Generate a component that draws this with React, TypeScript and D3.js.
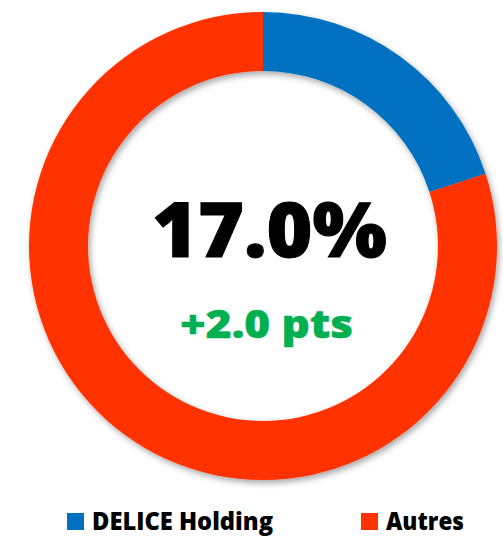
import React from "react";
import * as d3 from "d3";

const categories = ["DELICE Holding", "Autres"];
const values = [20, 80];
const colors = ["#0070C0", "#FF3300"];
const mainLabel = "17.0%";
const subLabel = "+2.0 pts";

export default function App() {
  const W = 503, H = 536;
  const cx = 263, cy = 246;
  const outer = 234, inner = 175;
  const pie = d3.pie<number>().sort(null)(values);
  const arc = d3.arc<d3.PieArcDatum<number>>().innerRadius(inner).outerRadius(outer);
  const font = "'Open Sans', Lato, sans-serif";
  const legendX = [67, 361];
  const legendW = [181, 78];
  return (
    <svg width={W} height={H} style={{ position: "absolute", left: 0, top: 0, background: "#fff" }}>
      <defs>
        <filter id="sh" x="-20%" y="-20%" width="140%" height="140%">
          <feDropShadow dx="2" dy="3" stdDeviation="3" floodColor="#000" floodOpacity="0.35" />
        </filter>
      </defs>
      <g transform={`translate(${cx},${cy})`} filter="url(#sh)">
        {pie.map((p, i) => (
          <path key={i} d={arc(p) || ""} fill={colors[i]} />
        ))}
      </g>
      <text x={152} y={257} textLength={235} lengthAdjust="spacingAndGlyphs" fontFamily={font} fontWeight={800} fontSize={76} fill="#000" stroke="#000" strokeWidth={1}>
        {mainLabel}
      </text>
      <text x={180} y={338} textLength={173} lengthAdjust="spacingAndGlyphs" fontFamily={font} fontWeight={800} fontSize={38} fill="#00B050" stroke="#00B050" strokeWidth={0.5}>
        {subLabel}
      </text>
      {categories.map((c, i) => (
        <g key={c}>
          <rect x={legendX[i]} y={513} width={17} height={17} fill={colors[i]} />
          <text x={legendX[i] + 25} y={530} textLength={legendW[i]} lengthAdjust="spacingAndGlyphs" fontFamily={font} fontWeight={800} fontSize={25} fill="#000">
            {c}
          </text>
        </g>
      ))}
    </svg>
  );
}
